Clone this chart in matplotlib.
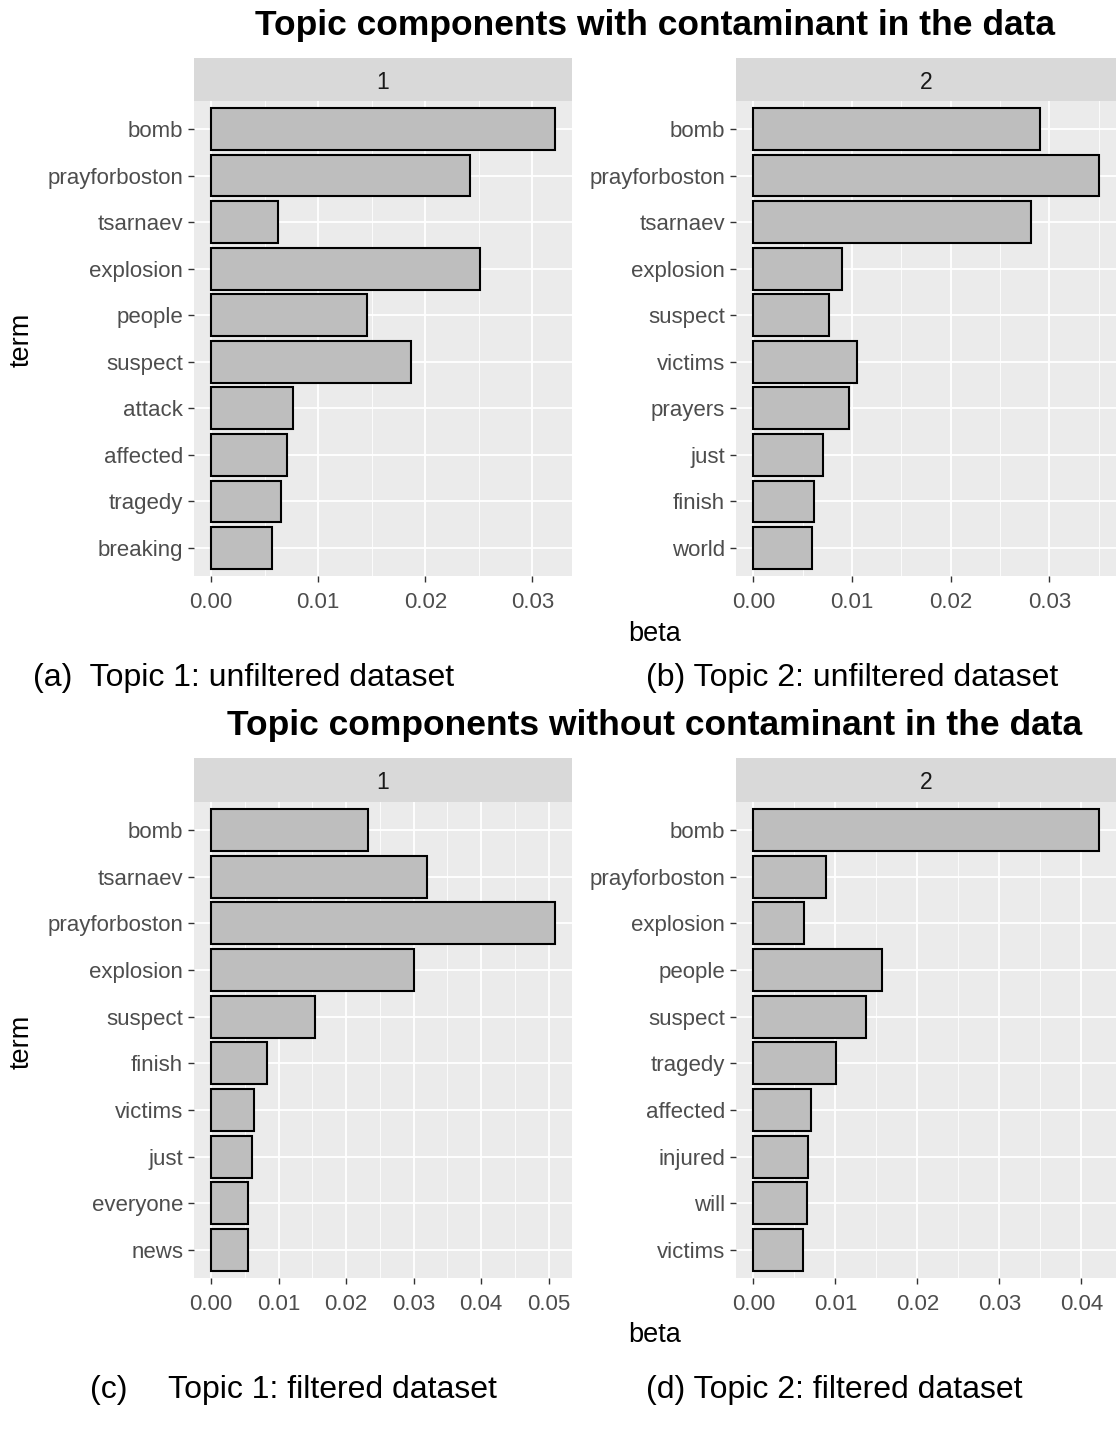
import numpy as np
import matplotlib
matplotlib.use('Agg')
from matplotlib import pyplot as plt
from matplotlib.ticker import MultipleLocator, FormatStrFormatter

plt.rcParams['font.family'] = ['Liberation Sans', 'DejaVu Sans']

W, H, DPI = 1119, 1434, 100

# topic terms and beta, unfiltered data
terms_a = ['bomb', 'prayforboston', 'tsarnaev', 'explosion', 'people',
           'suspect', 'attack', 'affected', 'tragedy', 'breaking']
beta_a = [0.0321, 0.0242, 0.0062, 0.0251, 0.0146,
          0.0187, 0.0076, 0.0071, 0.0065, 0.0057]

terms_b = ['bomb', 'prayforboston', 'tsarnaev', 'explosion', 'suspect',
           'victims', 'prayers', 'just', 'finish', 'world']
beta_b = [0.0290, 0.0350, 0.0281, 0.0090, 0.0077,
          0.0105, 0.0097, 0.0071, 0.0062, 0.0060]

# filtered data
terms_c = ['bomb', 'tsarnaev', 'prayforboston', 'explosion', 'suspect',
           'finish', 'victims', 'just', 'everyone', 'news']
beta_c = [0.0233, 0.0320, 0.0509, 0.0301, 0.0154,
          0.0083, 0.0064, 0.0061, 0.0055, 0.0055]

terms_d = ['bomb', 'prayforboston', 'explosion', 'people', 'suspect',
           'tragedy', 'affected', 'injured', 'will', 'victims']
beta_d = [0.0421, 0.0089, 0.0062, 0.0157, 0.0137,
          0.0101, 0.0070, 0.0067, 0.0065, 0.0061]

fig = plt.figure(figsize=(W / DPI, H / DPI), dpi=DPI)
fig.patch.set_facecolor('white')


def px_rect(x0, y0, x1, y1):
    # pixel box (top-left origin) -> figure fraction
    return [x0 / W, 1 - y1 / H, (x1 - x0) / W, (y1 - y0) / H]


def panel(x0, x1, ys, y0, y1, terms, beta, facet):
    ax = fig.add_axes(px_rect(x0, y0, x1, y1))
    ax.set_facecolor('#EBEBEB')
    pos = np.arange(len(terms))
    ax.barh(pos, beta, height=0.9, color='#BEBEBE', edgecolor='black',
            linewidth=1.5, zorder=3)
    top = max(beta)
    ax.set_xlim(-0.05 * top, 1.05 * top)
    ax.set_ylim(len(terms) - 0.4, -0.6)
    ax.set_yticks(pos)
    ax.set_yticklabels(terms)
    ax.xaxis.set_major_locator(MultipleLocator(0.01))
    ax.xaxis.set_minor_locator(MultipleLocator(0.005))
    ax.xaxis.set_major_formatter(FormatStrFormatter('%.2f'))
    ax.grid(which='major', color='white', linewidth=1.3, zorder=0)
    ax.grid(which='minor', axis='x', color='white', linewidth=0.6, zorder=0)
    ax.set_axisbelow(True)
    for s in ax.spines.values():
        s.set_visible(False)
    ax.tick_params(which='major', length=4.3, width=1.0, color='#333333',
                   labelcolor='#4D4D4D', labelsize=16)
    ax.tick_params(axis='x', which='major', pad=7.5)
    ax.tick_params(axis='y', which='major', pad=3.5)
    ax.tick_params(which='minor', length=0)

    strip = fig.add_axes(px_rect(x0, ys, x1, y0))
    strip.set_facecolor('#D9D9D9')
    strip.set_xticks([])
    strip.set_yticks([])
    for s in strip.spines.values():
        s.set_visible(False)
    strip.text(0.5, 0.44, facet, ha='center', va='center', fontsize=16.5,
               color='#1A1A1A', transform=strip.transAxes)
    return ax


def ftext(x, y, s, **kw):
    fig.text(x / W, 1 - y / H, s, **kw)


# upper figure
panel(194, 572, 58, 101, 576, terms_a, beta_a, '1')
panel(736, 1116, 58, 101, 576, terms_b, beta_b, '2')
ftext(655, 25, 'Topic components with contaminant in the data',
      ha='center', va='center', fontsize=25.5, fontweight='bold')
ftext(22, 340, 'term', rotation=90, ha='center', va='center', fontsize=19.5)
ftext(655, 634, 'beta', ha='center', va='center', fontsize=19.5)
ftext(33, 678, '(a)  Topic 1: unfiltered dataset', ha='left', va='center',
      fontsize=23)
ftext(646, 678, '(b) Topic 2: unfiltered dataset', ha='left', va='center',
      fontsize=23)

# lower figure
panel(194, 572, 758, 802, 1278, terms_c, beta_c, '1')
panel(736, 1116, 758, 802, 1278, terms_d, beta_d, '2')
ftext(655, 725, 'Topic components without contaminant in the data',
      ha='center', va='center', fontsize=25.5, fontweight='bold')
ftext(22, 1042, 'term', rotation=90, ha='center', va='center', fontsize=19.5)
ftext(655, 1335, 'beta', ha='center', va='center', fontsize=19.5)
ftext(90, 1390, '(c)', ha='left', va='center', fontsize=23)
ftext(168, 1390, 'Topic 1: filtered dataset', ha='left', va='center',
      fontsize=23)
ftext(646, 1390, '(d) Topic 2: filtered dataset', ha='left', va='center',
      fontsize=23)

fig.savefig('out.png', dpi=DPI)
